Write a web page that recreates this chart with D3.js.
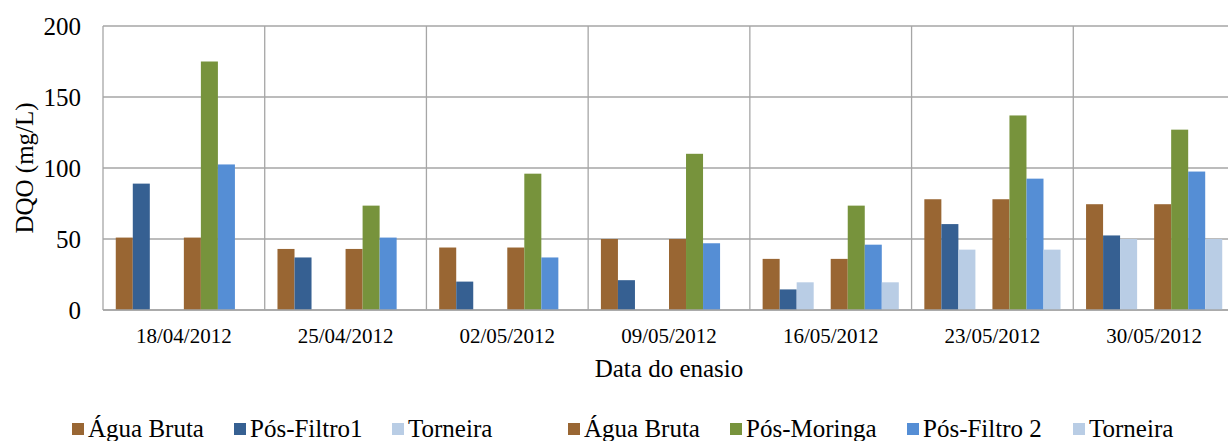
<!DOCTYPE html>
<html>
<head>
<meta charset="utf-8">
<script src="https://cdn.jsdelivr.net/npm/d3@7"></script>
<style>
  body { margin: 0; background: #fff; }
  svg { display: block; }
  svg text { font-family: "Liberation Serif", "Times New Roman", serif; fill: #000; }
</style>
</head>
<body>
<svg id="chart" width="1228" height="441"></svg>
<script>
// Data
var categories = ["18/04/2012", "25/04/2012", "02/05/2012", "09/05/2012", "16/05/2012", "23/05/2012", "30/05/2012"];
var seriesNames = ["Água Bruta", "Pós-Filtro1", "Torneira", "", "Água Bruta", "Pós-Moringa", "Pós-Filtro 2", "Torneira"];
var seriesColors = ["#996633", "#366092", "#b9cde5", "none", "#996633", "#77933c", "#558ed5", "#b9cde5"];

var aguaBruta1 = [51, 43, 44, 50, 36, 78, 74.5];
var posFiltro1 = [89, 37, 20, 21, 14.5, 60.5, 52.5];
var torneira1 = [null, null, null, null, 19.5, 42.5, 50];
var blankSeries = [null, null, null, null, null, null, null];
var aguaBruta2 = [51, 43, 44, 50, 36, 78, 74.5];
var posMoringa = [175, 73.5, 96, 110, 73.5, 137, 127];
var posFiltro2 = [102.5, 51, 37, 47, 46, 92.5, 97.5];
var torneira2 = [null, null, null, null, 19.5, 42.5, 50];

var seriesValues = [aguaBruta1, posFiltro1, torneira1, blankSeries, aguaBruta2, posMoringa, posFiltro2, torneira2];
var yTicks = [0, 50, 100, 150, 200];

var svg = d3.select("#chart");

// Setup plot box
var plot = { left: 103, right: 1235, top: 26, bottom: 310 };
var gridColor = "#a6a6a6";

var x = d3.scaleBand()
  .domain(categories)
  .range([plot.left, plot.right])
  .paddingInner(0)
  .paddingOuter(0);

// Excel style gap width 150%
var gapRatio = 1.5 / (seriesValues.length + 1.5);
var xInner = d3.scaleBand()
  .domain(d3.range(seriesValues.length))
  .range([x.bandwidth() * gapRatio / 2, x.bandwidth() * (1 - gapRatio / 2)]);

var y = d3.scaleLinear()
  .domain([0, 200])
  .range([plot.bottom, plot.top]);

// Gridlines
var grid = svg.append("g").attr("stroke", gridColor).attr("stroke-width", 1.3);

grid.selectAll("line.h")
  .data(yTicks)
  .enter()
  .append("line")
  .attr("x1", plot.left)
  .attr("x2", 1228)
  .attr("y1", d => y(d))
  .attr("y2", d => y(d));

grid.selectAll("line.v")
  .data(categories)
  .enter()
  .append("line")
  .attr("x1", d => x(d))
  .attr("x2", d => x(d))
  .attr("y1", plot.top)
  .attr("y2", plot.bottom);

// Bars
var flat = [];
seriesValues.forEach(function(vals, si) {
  vals.forEach(function(v, ci) {
    if (v !== null) flat.push({ s: si, c: categories[ci], v: v });
  });
});

svg.append("g")
  .selectAll("rect")
  .data(flat)
  .enter()
  .append("rect")
  .attr("x", d => x(d.c) + xInner(d.s))
  .attr("width", xInner.bandwidth())
  .attr("y", d => y(d.v))
  .attr("height", d => y(0) - y(d.v))
  .attr("fill", d => seriesColors[d.s]);

// Base line on top of bars
svg.append("line")
  .attr("x1", plot.left).attr("x2", 1228)
  .attr("y1", y(0)).attr("y2", y(0))
  .attr("stroke", gridColor).attr("stroke-width", 1.3);

// Y tick labels
svg.append("g")
  .selectAll("text")
  .data(yTicks)
  .enter()
  .append("text")
  .attr("x", 81)
  .attr("y", d => y(d))
  .attr("dy", "0.35em")
  .attr("text-anchor", "end")
  .style("font-size", "25px")
  .text(d => d);

// X tick labels
svg.append("g")
  .selectAll("text")
  .data(categories)
  .enter()
  .append("text")
  .attr("x", d => x(d) + x.bandwidth() / 2)
  .attr("y", 343)
  .attr("text-anchor", "middle")
  .style("font-size", "21px")
  .text(d => d);

// Axis titles
svg.append("text")
  .attr("x", (plot.left + plot.right) / 2)
  .attr("y", 377)
  .attr("text-anchor", "middle")
  .style("font-size", "25px")
  .text("Data do enasio");

svg.append("text")
  .attr("transform", "translate(24," + (plot.top + plot.bottom) / 2 + ") rotate(-90)")
  .attr("dy", "0.35em")
  .attr("text-anchor", "middle")
  .style("font-size", "25px")
  .text("DQO (mg/L)");

// Legend (Excel lays entries out by their own widths)
var legendX = [72, 234, 392, null, 568, 730, 907, 1073];
var legend = svg.append("g");
seriesNames.forEach(function(name, i) {
  if (legendX[i] === null) return;
  legend.append("rect")
    .attr("x", legendX[i]).attr("y", 423)
    .attr("width", 12).attr("height", 12)
    .attr("fill", seriesColors[i]);
  legend.append("text")
    .attr("x", legendX[i] + 16)
    .attr("y", 437)
    .style("font-size", "25px")
    .text(name);
});
</script>
</body>
</html>
